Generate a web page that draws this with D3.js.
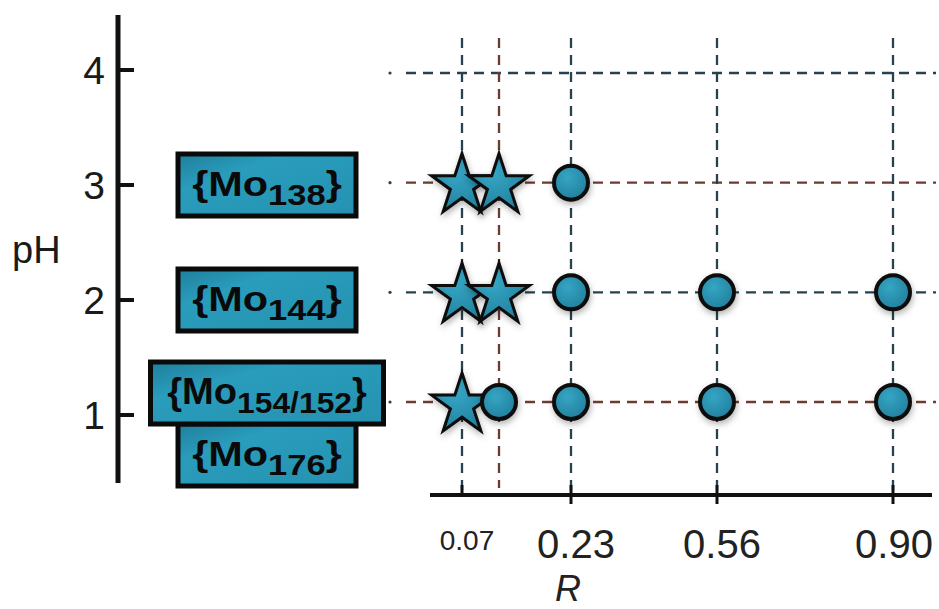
<!DOCTYPE html>
<html>
<head>
<meta charset="utf-8">
<script src="https://cdn.jsdelivr.net/npm/d3@7"></script>
<style>
  body { margin: 0; background: #fff; }
  svg { display: block; font-family: "Liberation Sans", Arial, sans-serif; }
</style>
</head>
<body>
<div id="chart"></div>
<script>
// pH levels and R ratios
const phTicks = [1, 2, 3, 4];
const rTicks = [0.07, 0.23, 0.56, 0.90];
const rGrid = [0.07, 0.13, 0.23, 0.56, 0.90];
const phGrid = [1, 2, 3, 4];

// observed products: [pH, R]
const stars = [[3, 0.07], [3, 0.13], [2, 0.07], [2, 0.13], [1, 0.07]];
const circles = [[3, 0.23], [2, 0.23], [2, 0.56], [2, 0.90], [1, 0.13], [1, 0.23], [1, 0.56], [1, 0.90]];

// cluster labels per pH
const clusterPh = [3, 2, 1, 1];
const clusterSub = ['138', '144', '154/152', '176'];

const width = 939;
const height = 609;
const slate = '#27424e';
const brown = '#6e3a2f';

const svg = d3.select('#chart').append('svg')
  .attr('width', width)
  .attr('height', height);

const defs = svg.append('defs');
const shadow = defs.append('filter').attr('id', 'shadow')
  .attr('x', '-50%').attr('y', '-50%').attr('width', '200%').attr('height', '200%');
shadow.append('feDropShadow')
  .attr('dx', 1).attr('dy', 3).attr('stdDeviation', 3)
  .attr('flood-color', '#000').attr('flood-opacity', 0.3);

const grad = defs.append('linearGradient').attr('id', 'boxFill')
  .attr('x1', 0).attr('y1', 0).attr('x2', 1).attr('y2', 1);
grad.append('stop').attr('offset', '0%').attr('stop-color', '#1f7f9b');
grad.append('stop').attr('offset', '30%').attr('stop-color', '#2a9cbc');
grad.append('stop').attr('offset', '100%').attr('stop-color', '#2592b0');

const markGrad = defs.append('radialGradient').attr('id', 'markFill')
  .attr('cx', '40%').attr('cy', '35%').attr('r', '70%');
markGrad.append('stop').attr('offset', '0%').attr('stop-color', '#35a5c4');
markGrad.append('stop').attr('offset', '100%').attr('stop-color', '#217f9c');

// left pH axis
const yAxisScale = d3.scaleLinear().domain([1, 4]).range([415, 70]);
// right panel (slightly compressed, as in the figure)
const yGrid = d3.scaleLinear().domain([1, 4]).range([402, 73]);
// R is drawn on a schematic, piecewise axis
const x = d3.scaleLinear()
  .domain([0.07, 0.13, 0.23, 0.56, 0.90])
  .range([462, 499, 571, 717, 893]);

// y axis
const axisX = 118;
svg.append('line')
  .attr('x1', axisX).attr('x2', axisX)
  .attr('y1', 15).attr('y2', 483)
  .attr('stroke', '#111').attr('stroke-width', 5);

svg.append('g').selectAll('line')
  .data(phTicks)
  .join('line')
  .attr('x1', axisX).attr('x2', axisX + 16)
  .attr('y1', d => yAxisScale(d)).attr('y2', d => yAxisScale(d))
  .attr('stroke', '#111').attr('stroke-width', 4);

svg.append('g').selectAll('text')
  .data(phTicks)
  .join('text')
  .attr('x', 105)
  .attr('y', d => yAxisScale(d))
  .attr('dy', '0.36em')
  .attr('text-anchor', 'end')
  .attr('font-size', 39)
  .attr('fill', '#1a1a1a')
  .text(d => d);

svg.append('text')
  .attr('x', 12).attr('y', 263)
  .attr('font-size', 38)
  .attr('fill', '#1a1a1a')
  .text('pH');

// cluster boxes
const boxes = clusterPh.map((p, i) => {
  const wide = clusterSub[i].length > 3;
  const w = wide ? 233 : 178;
  const h = 62;
  let cy = yAxisScale(p);
  if (clusterSub[i] === '154/152') cy -= 22;
  if (clusterSub[i] === '176') cy += 40;
  return { sub: clusterSub[i], w, h, cx: 267, cy };
});

// draw the 176 box first so 154/152 sits on top
const boxOrder = [boxes[3], boxes[0], boxes[1], boxes[2]];
const boxG = svg.append('g').selectAll('g')
  .data(boxOrder)
  .join('g')
  .attr('transform', d => `translate(${d.cx},${d.cy})`);

boxG.append('rect')
  .attr('x', d => -d.w / 2).attr('y', d => -d.h / 2)
  .attr('width', d => d.w).attr('height', d => d.h)
  .attr('fill', 'url(#boxFill)')
  .attr('stroke', '#0a0a0a').attr('stroke-width', 5);

const label = boxG.append('text')
  .attr('text-anchor', 'middle')
  .attr('transform', d => d.sub.length > 3 ? 'translate(0,11) scale(1.06,1)' : 'translate(0,11) scale(1.15,1)')
  .attr('font-weight', 'bold')
  .attr('fill', '#0a0a0a');
label.append('tspan').attr('font-size', 36).text('{Mo');
label.append('tspan').attr('font-size', 30).attr('dy', 9).text(d => d.sub);
label.append('tspan').attr('font-size', 36).attr('dy', -9).text('}');

// grid lines
const gridG = svg.append('g').attr('fill', 'none').attr('stroke-width', 2.3)
  .attr('stroke-dasharray', '10,7');

gridG.selectAll('.hline')
  .data(phGrid)
  .join('line')
  .attr('class', 'hline')
  .attr('x1', 406).attr('x2', 936)
  .attr('y1', d => yGrid(d)).attr('y2', d => yGrid(d))
  .attr('stroke', d => (d === 3 || d === 1) ? brown : slate);

svg.append('g').selectAll('circle')
  .data(phGrid)
  .join('circle')
  .attr('cx', 390).attr('cy', d => yGrid(d)).attr('r', 1.6)
  .attr('fill', slate);

gridG.selectAll('.vline')
  .data(rGrid)
  .join('line')
  .attr('class', 'vline')
  .attr('x1', d => x(d)).attr('x2', d => x(d))
  .attr('y1', 38).attr('y2', d => d === 0.13 ? 488 : 495)
  .attr('stroke', d => d === 0.13 ? brown : slate);

// x axis
const axisY = 495;
svg.append('line')
  .attr('x1', 430).attr('x2', 932)
  .attr('y1', axisY).attr('y2', axisY)
  .attr('stroke', '#111').attr('stroke-width', 4);

svg.append('g').selectAll('line')
  .data(rTicks)
  .join('line')
  .attr('x1', d => x(d)).attr('x2', d => x(d))
  .attr('y1', axisY - 10).attr('y2', d => d === 0.07 ? axisY : axisY + 9)
  .attr('stroke', '#111').attr('stroke-width', 3);

svg.append('g').selectAll('text')
  .data(rTicks)
  .join('text')
  .attr('x', d => x(d) + (d === 0.90 ? 1 : 5))
  .attr('y', d => d === 0.07 ? 550 : 558)
  .attr('text-anchor', 'middle')
  .attr('font-size', d => d === 0.07 ? 28 : 40)
  .attr('fill', '#222')
  .text(d => d.toFixed(2));

svg.append('text')
  .attr('x', 568).attr('y', 601)
  .attr('text-anchor', 'middle')
  .attr('font-size', 36)
  .attr('font-style', 'italic')
  .attr('fill', '#222')
  .text('R');

// markers, drawn left to right so later ones overlap earlier ones
const marks = stars.map(d => ({ ph: d[0], r: d[1], kind: 'star' }))
  .concat(circles.map(d => ({ ph: d[0], r: d[1], kind: 'circle' })))
  .sort((a, b) => a.r - b.r || b.ph - a.ph);

const starPath = d3.symbol().type(d3.symbolStar).size(1150)();

const markG = svg.append('g').selectAll('g')
  .data(marks)
  .join('g')
  .attr('transform', d => `translate(${x(d.r)},${yGrid(d.ph) + (d.kind === 'star' ? 3 : 0)})`)
  .attr('filter', 'url(#shadow)');

markG.filter(d => d.kind === 'star')
  .append('path')
  .attr('d', starPath)
  .attr('fill', 'url(#markFill)')
  .attr('stroke', '#0a0a0a')
  .attr('stroke-width', 3)
  .attr('stroke-linejoin', 'miter');

markG.filter(d => d.kind === 'circle')
  .append('circle')
  .attr('r', 17)
  .attr('fill', 'url(#markFill)')
  .attr('stroke', '#0a0a0a')
  .attr('stroke-width', 4);
</script>
</body>
</html>
